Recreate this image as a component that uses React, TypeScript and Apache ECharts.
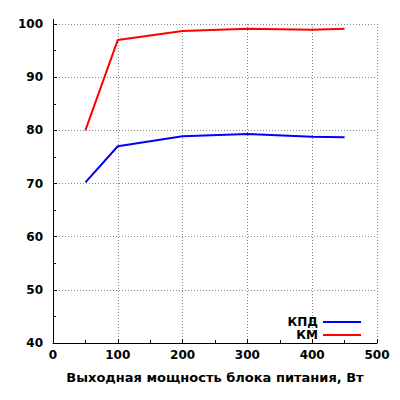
import React, { useEffect, useRef } from "react";
import * as echarts from "echarts";

// output power, W
const power = [50, 100, 200, 300, 400, 450];
// efficiency (КПД), %
const kpd = [70.2, 77.0, 78.9, 79.3, 78.8, 78.7];
// power factor (КМ), %
const km = [80.0, 97.0, 98.7, 99.1, 98.9, 99.1];

const seriesNames = ["КПД", "КМ"];
const xTitle = "Выходная мощность блока питания, Вт";

const FONT = "DejaVu Sans";

const App = () => {
	const chartRef = useRef<HTMLDivElement>(null);

	useEffect(() => {
		if (!chartRef.current) return;
		const chart = echarts.init(chartRef.current, null, { renderer: "svg" });

		const axisCommon = {
			axisLine: { show: true, lineStyle: { color: "#000", width: 1 } },
			axisTick: { show: true, inside: true, length: 4, lineStyle: { color: "#000" } },
			minorTick: { show: true, splitNumber: 2, length: 3, lineStyle: { color: "#000" } },
			axisLabel: { color: "#000", fontFamily: FONT, fontWeight: "bold", fontSize: 12 },
			splitLine: { show: true, lineStyle: { color: "#888", type: [1, 2], width: 1 } },
		};

		chart.setOption({
			animation: false,
			grid: { left: 53, right: 23, top: 24, bottom: 57, containLabel: false },
			xAxis: {
				type: "value",
				min: 0,
				max: 500,
				interval: 100,
				...axisCommon,
				axisLabel: { ...axisCommon.axisLabel, margin: 6 },
				name: xTitle,
				nameLocation: "middle",
				nameGap: 28,
				nameTextStyle: { color: "#000", fontFamily: FONT, fontWeight: "bold", fontSize: 13 },
			},
			yAxis: {
				type: "value",
				min: 40,
				max: 100,
				interval: 10,
				...axisCommon,
				axisLabel: { ...axisCommon.axisLabel, margin: 10 },
			},
			legend: {
				orient: "vertical",
				right: 34,
				top: 311,
				align: "right",
				itemWidth: 38,
				itemHeight: 11,
				itemGap: 1,
				icon: "path://M0,4L38,4L38,6L0,6Z",
				textStyle: { color: "#000", fontFamily: FONT, fontWeight: "bold", fontSize: 12 },
				data: seriesNames,
			},
			graphic: [
				{
					type: "line",
					shape: { x1: 53.5, y1: 19, x2: 53.5, y2: 24 },
					style: { stroke: "#000", lineWidth: 1 },
				},
			],
			series: [
				{
					name: seriesNames[0],
					type: "line",
					data: power.map((p, i) => [p, kpd[i]]),
					showSymbol: false,
					lineStyle: { color: "#0000ff", width: 2 },
					itemStyle: { color: "#0000ff" },
				},
				{
					name: seriesNames[1],
					type: "line",
					data: power.map((p, i) => [p, km[i]]),
					showSymbol: false,
					lineStyle: { color: "#ff0000", width: 2 },
					itemStyle: { color: "#ff0000" },
				},
			],
		});

		return () => {
			chart.dispose();
		};
	}, []);

	return <div ref={chartRef} style={{ width: 400, height: 400, margin: -8 }} />;
};

export default App;
